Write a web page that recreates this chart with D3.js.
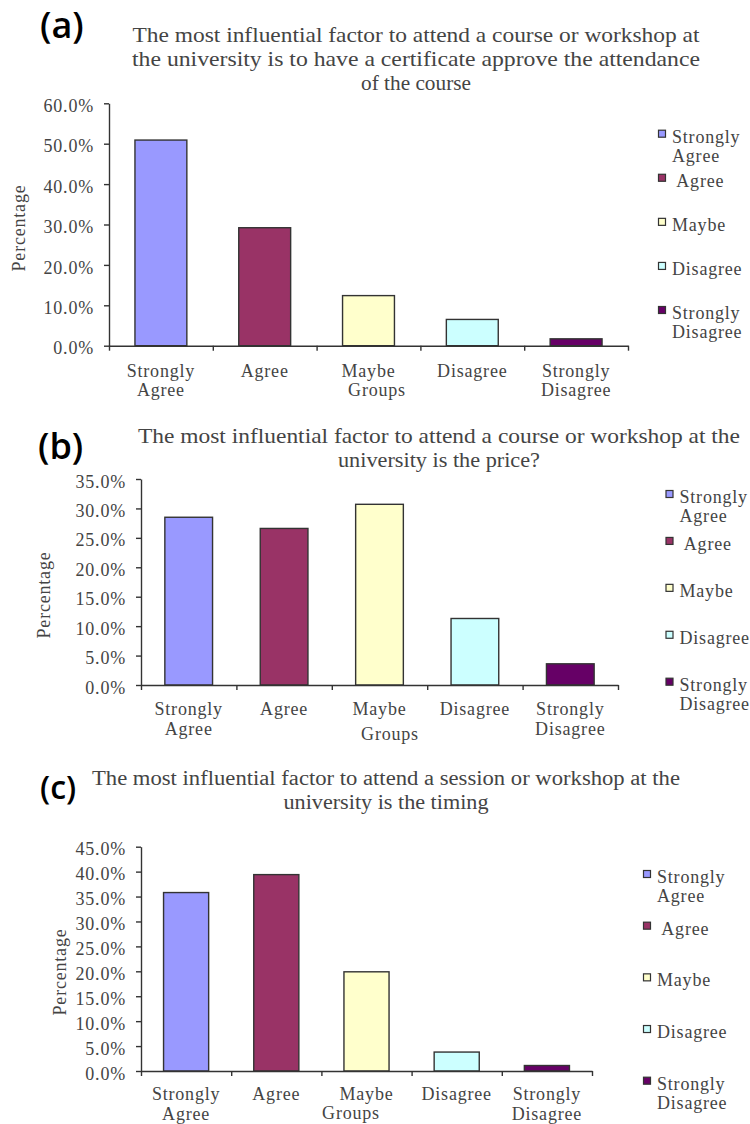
<!DOCTYPE html>
<html>
<head>
<meta charset="utf-8">
<script src="https://cdn.jsdelivr.net/npm/d3@7"></script>
<style>
  html, body { margin: 0; padding: 0; background: #fff; }
  svg { display: block; }
  text { white-space: pre; }
</style>
</head>
<body>
<script>
// ---------- data ----------
const categories = ["Strongly Agree", "Agree", "Maybe", "Disagree", "Strongly Disagree"];
const axisCategoryLabels = [["Strongly", "Agree"], ["Agree"], ["Maybe"], ["Disagree"], ["Strongly", "Disagree"]];
const legendLabels = [["Strongly", "Agree"], [" Agree"], ["Maybe"], ["Disagree"], ["Strongly", "Disagree"]];

const valuesA = [50.9, 29.2, 12.4, 6.5, 1.7];
const valuesB = [28.5, 26.6, 30.7, 11.3, 3.6];
const valuesC = [35.8, 39.4, 19.9, 3.8, 1.1];

const ticksA = [0, 10, 20, 30, 40, 50, 60];
const ticksB = [0, 5, 10, 15, 20, 25, 30, 35];
const ticksC = [0, 5, 10, 15, 20, 25, 30, 35, 40, 45];

const titleA = ["The most influential factor to attend a course or workshop at",
                "the university is to have a certificate approve the attendance",
                "of the course"];
const titleB = ["The most influential factor to attend a course or workshop at the",
                "university is the price?"];
const titleC = ["The most influential factor to attend a session or workshop at the",
                "university is the timing"];

const panelLabels = ["(a)", "(b)", "(c)"];
const xAxisTitle = "Groups";
const yAxisTitle = "Percentage";

// ---------- styles ----------
const barColors = ["#9999FF", "#993366", "#FFFFCC", "#CCFFFF", "#660066"];
const color = d3.scaleOrdinal().domain(categories).range(barColors);
const axisFont = "'Liberation Serif', serif";
const titleFont = "'Liberation Serif', serif";
const textColor = "#444";
const lineColor = "#333";
const axisSize = 18;
const axisSpacing = "0.8px";

// ---------- layout ----------
const panels = [
  { values: valuesA, ticks: ticksA, title: titleA, label: panelLabels[0],
    x0: 109, x1: 628, yTop: 103.3, yBot: 345.7,
    titleX: 416, titleY: 42, titleLines: [567, 568, 110], titleSize: 21,
    labelX: 40, labelY: 38, labelSize: 36,
    yTitleX: 20, yTitleY: 228, groupsX: 377, groupsY: 396, catY: 31,
    legSqX: 662, legTextX: 672, legY0: 133.7, legY1: 310 },
  { values: valuesB, ticks: ticksB, title: titleB, label: panelLabels[1],
    x0: 141, x1: 618, yTop: 479, yBot: 685,
    titleX: 439, titleY: 443, titleLines: [602, 202], titleSize: 21,
    labelX: 38, labelY: 459, labelSize: 36,
    yTitleX: 45, yTitleY: 595, groupsX: 390, groupsY: 740, catY: 30,
    legSqX: 669.5, legTextX: 679.5, legY0: 494, legY1: 681.7 },
  { values: valuesC, ticks: ticksC, title: titleC, label: panelLabels[2],
    x0: 141, x1: 592, yTop: 846.7, yBot: 1071,
    titleX: 386, titleY: 785, titleLines: [588, 205], titleSize: 20,
    labelX: 40, labelY: 799, labelSize: 32,
    yTitleX: 61, yTitleY: 972, groupsX: 351, groupsY: 1119, catY: 29,
    legSqX: 647, legTextX: 657, legY0: 874, legY1: 1080.7 }
];

const svg = d3.select("body").append("svg")
  .attr("width", 750).attr("height", 1124);

function axisText(sel) {
  return sel.attr("font-family", axisFont).attr("font-size", axisSize)
    .attr("letter-spacing", axisSpacing).attr("fill", textColor);
}

panels.forEach(p => {
  const g = svg.append("g");
  const yMax = d3.max(p.ticks);
  const y = d3.scaleLinear().domain([0, yMax]).range([p.yBot, p.yTop]);
  const x = d3.scaleBand().domain(categories).range([p.x0, p.x1])
    .paddingInner(0.5).paddingOuter(0.25);
  const xl = d3.scaleLinear().domain([0, categories.length]).range([p.x0, p.x1]);

  // panel label
  g.append("text").attr("x", p.labelX).attr("y", p.labelY)
    .attr("font-family", "'Open Sans', sans-serif").attr("font-weight", 600)
    .attr("font-size", p.labelSize).attr("fill", "#000").text(p.label);

  // title
  p.title.forEach((line, i) => {
    g.append("text").attr("x", p.titleX).attr("y", p.titleY + i * 24)
      .attr("text-anchor", "middle")
      .attr("font-family", titleFont).attr("font-size", p.titleSize)
      .attr("fill", textColor)
      .attr("textLength", p.titleLines[i]).attr("lengthAdjust", "spacingAndGlyphs")
      .text(line);
  });

  // bars
  g.selectAll("rect.bar").data(p.values).join("rect").attr("class", "bar")
    .attr("x", (d, i) => x(categories[i]))
    .attr("y", d => y(d))
    .attr("width", x.bandwidth())
    .attr("height", d => y(0) - y(d))
    .attr("fill", (d, i) => color(categories[i]))
    .attr("stroke", lineColor).attr("stroke-width", 1.4);

  // y axis
  const ya = g.append("g").attr("transform", `translate(${p.x0},0)`)
    .call(d3.axisLeft(y).tickValues(p.ticks).tickFormat(d => d.toFixed(1) + "%")
      .tickSize(5).tickSizeOuter(0).tickPadding(10));
  ya.select(".domain").attr("stroke", lineColor).attr("stroke-width", 1.4);
  ya.selectAll(".tick line").attr("stroke", lineColor).attr("stroke-width", 1.4);
  ya.selectAll(".tick text").call(axisText).attr("dy", "0.45em");

  // x axis
  const xa = g.append("g").attr("transform", `translate(0,${p.yBot})`)
    .call(d3.axisBottom(xl).tickValues(d3.range(categories.length + 1))
      .tickFormat("").tickSize(5).tickSizeOuter(0));
  xa.select(".domain").attr("stroke", lineColor).attr("stroke-width", 1.4);
  xa.selectAll(".tick line").attr("stroke", lineColor).attr("stroke-width", 1.4);

  // category labels
  axisCategoryLabels.forEach((lines, i) => {
    const cx = x(categories[i]) + x.bandwidth() / 2;
    const t = g.append("text").attr("x", cx).attr("y", p.yBot + p.catY)
      .attr("text-anchor", "middle").call(axisText);
    lines.forEach((l, j) => {
      t.append("tspan").attr("x", cx).attr("dy", j === 0 ? 0 : 19.5).text(l);
    });
  });

  // x axis title
  g.append("text").attr("x", p.groupsX).attr("y", p.groupsY)
    .attr("text-anchor", "middle").call(axisText).text(xAxisTitle);

  // y axis title
  g.append("text")
    .attr("transform", `translate(${p.yTitleX + 5},${p.yTitleY}) rotate(-90)`)
    .attr("text-anchor", "middle").call(axisText).text(yAxisTitle);

  // legend
  const ly = d3.scalePoint().domain(categories).range([p.legY0, p.legY1]);
  categories.forEach((c, i) => {
    g.append("rect").attr("x", p.legSqX - 3.5).attr("y", ly(c) - 3.5)
      .attr("width", 7).attr("height", 7)
      .attr("fill", color(c)).attr("stroke", lineColor).attr("stroke-width", 1.2);
    const t = g.append("text").attr("x", p.legTextX).attr("y", ly(c) + 9).call(axisText);
    legendLabels[i].forEach((l, j) => {
      t.append("tspan").attr("x", p.legTextX).attr("dy", j === 0 ? 0 : 19).text(l);
    });
  });
});
</script>
</body>
</html>
